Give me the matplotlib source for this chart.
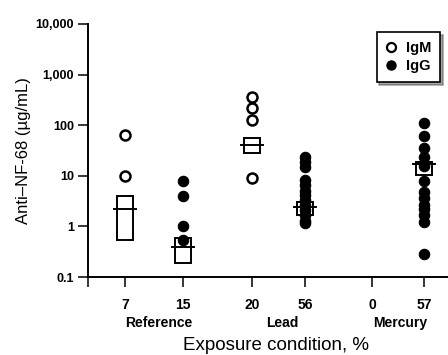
import matplotlib
matplotlib.use("Agg")
import matplotlib.pyplot as plt
import numpy as np

# ---- data ----
tick_labels = ["7", "15", "20", "56", "0", "57"]
group_names = ["Reference", "Lead", "Mercury"]
isotype = ["IgM", "IgG", "IgM", "IgG", "IgM", "IgG"]

values = [
    [63, 10],                                              # Reference IgM
    [7.8, 3.9, 1.0, 0.53],                                 # Reference IgG
    [355, 215, 124, 8.9],                                  # Lead IgM
    [23, 18.4, 14.6, 8.1, 6.5, 5.1, 4.1, 3.3, 2.6, 2.1,
     1.65, 1.3, 1.15],                                     # Lead IgG
    [],                                                    # Mercury IgM
    [109, 60, 35, 23, 15.4, 7.8, 4.7, 3.6, 2.7, 2.2, 1.7,
     1.2, 0.28],                                           # Mercury IgG
]
box_lo = [0.53, 0.19, 28, 1.7, None, 10.2]
box_hi = [3.9, 0.6, 55, 3.1, None, 19]
box_mid = [2.2, 0.40, 40, 2.4, None, 17]

# ---- layout ----
positions = [12.5, 18.3, 25.2, 30.5, 37.2, 42.4]
group_centers = [15.9, 28.2, 40.0]

W, H = 448, 355
fig = plt.figure(figsize=(W / 100, H / 100), dpi=100)
ax = fig.add_axes([88 / W, (H - 277) / H, 1 - 88 / W, (277 - 24) / H])
ax.set_yscale("log")
ax.set_ylim(0.1, 10000)
ax.set_xlim(8.8, 44.8)

bold = dict(family=["Liberation Sans", "DejaVu Sans"], fontweight="bold")
reg = dict(family=["Liberation Sans", "DejaVu Sans"])

for x, vals, iso in zip(positions, values, isotype):
    if not vals:
        continue
    if iso == "IgM":
        ax.plot([x] * len(vals), vals, "o", ms=7.2, mfc="white", mec="black",
                mew=1.8, zorder=3, clip_on=False)
    else:
        ax.plot([x] * len(vals), vals, "o", ms=7.5, mfc="black", mec="black",
                mew=0.8, zorder=3, clip_on=False)

bw = 1.6
mw = 2.2
for x, lo, hi, mid in zip(positions, box_lo, box_hi, box_mid):
    if lo is None:
        continue
    ax.bar(x, hi - lo, bottom=lo, width=bw, facecolor="none",
           edgecolor="black", linewidth=1.4, zorder=4)
    ax.plot([x - mw / 2, x + mw / 2], [mid, mid], color="black", lw=1.4, zorder=4)

# legend
ax.plot([], [], "o", ms=6.5, mfc="white", mec="black", mew=1.6, label="IgM")
ax.plot([], [], "o", ms=6.5, mfc="black", mec="black", label="IgG")
leg = ax.legend(loc="upper right", bbox_to_anchor=(440 / W, 1 - 32 / H),
                bbox_transform=fig.transFigure, frameon=True, shadow=True,
                fancybox=False, handletextpad=0.6, handlelength=0.8,
                borderpad=0.6, labelspacing=0.3, borderaxespad=0,
                prop=dict(family=["Liberation Sans", "DejaVu Sans"],
                          weight="bold", size=10.5))
leg.get_frame().set_edgecolor("black")
leg.get_frame().set_linewidth(1.2)

# axes styling
for s in ["top", "right"]:
    ax.spines[s].set_visible(False)
ax.spines["left"].set_linewidth(1.4)
ax.spines["bottom"].set_linewidth(1.4)

ax.set_yticks([0.1, 1, 10, 100, 1000, 10000])
ax.set_yticklabels(["0.1", "1", "10", "100", "1,000", "10,000"], **bold, fontsize=9)
ax.yaxis.set_minor_locator(matplotlib.ticker.NullLocator())
ax.tick_params(axis="y", direction="out", length=7, width=1.1, pad=3)

ax.set_xticks([8.8] + positions)
ax.set_xticklabels([""] + tick_labels, **bold, fontsize=10)
ax.tick_params(axis="x", direction="out", length=7, width=1.1, pad=8)

for cx, name in zip(group_centers, group_names):
    ax.text(cx, -0.18, name, transform=ax.get_xaxis_transform(),
            ha="center", va="center", fontsize=10, **bold)

ax.set_ylabel("Anti\u2013NF-68 (\u00b5g/mL)", fontsize=12, labelpad=3, **reg)
fig.text(276 / W, 1 - 345 / H, "Exposure condition, %", ha="center",
         va="center", fontsize=13.5, **reg)

fig.savefig("out.png", dpi=100)
